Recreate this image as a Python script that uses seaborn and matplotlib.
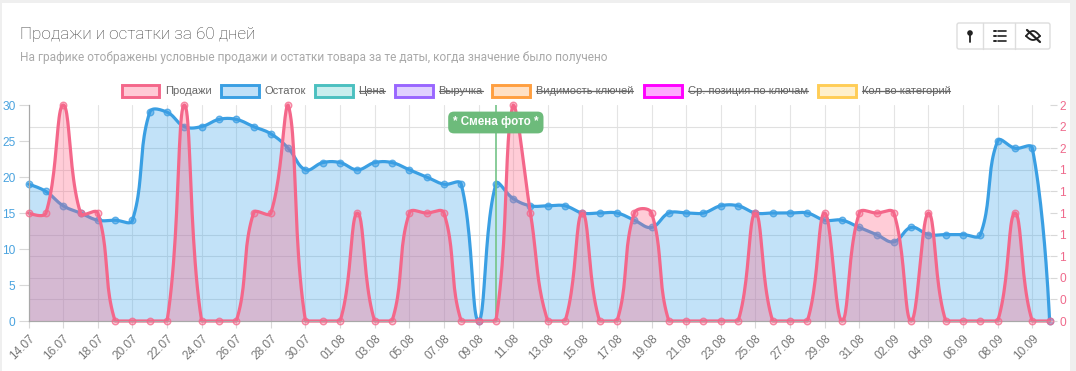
import matplotlib
matplotlib.use('Agg')
import matplotlib.pyplot as plt
from matplotlib.patches import Rectangle, FancyBboxPatch, Circle
import numpy as np
import seaborn as sns

# values
dates = ['14.07', '16.07', '18.07', '20.07', '22.07', '24.07', '26.07', '28.07', '30.07', '01.08',
         '03.08', '05.08', '07.08', '09.08', '11.08', '13.08', '15.08', '17.08', '19.08', '21.08',
         '23.08', '25.08', '27.08', '29.08', '31.08', '02.09', '04.09', '06.09', '08.09', '10.09']
stock = [19, 18, 16, 15, 14, 14, 14, 29, 29, 27, 27, 28, 28, 27, 26, 24, 21, 22, 22, 21,
         22, 22, 21, 20, 19, 19, 0, 19, 17, 16, 16, 16, 15, 15, 15, 14, 13, 15, 15, 15,
         16, 16, 15, 15, 15, 15, 14, 14, 13, 12, 11, 13, 12, 12, 12, 12, 25, 24, 24, 0]
sales = [1, 1, 2, 1, 1, 0, 0, 0, 0, 2, 0, 0, 0, 1, 1, 2, 0, 0, 0, 1,
         0, 0, 1, 1, 1, 0, 0, 0, 2, 1, 0, 0, 1, 0, 0, 1, 1, 0, 0, 0,
         0, 0, 1, 0, 0, 0, 1, 0, 1, 1, 1, 0, 1, 0, 0, 0, 0, 1, 0, 0]
legend_labels = ['Продажи', 'Остаток', 'Цена', 'Выручка', 'Видимость ключей',
                 'Ср. позиция по ключам', 'Кол-во категорий']
legend_hidden = [False, False, True, True, True, True, True]
note_index = 27
note_text = '* Смена фото *'

legend_edges = ['#f4678a', '#3a9fe3', '#4bc0c0', '#9966ff', '#ff9f40', '#ff00ff', '#ffcd56']
legend_fills = ['#ffc9d5', '#c0e0f8', '#c9eeee', '#e0d1ff', '#ffe0c4', '#ffaaff', '#fff0cc']
legend_x = [120.5, 220, 314, 394, 491, 643, 817]

W, H = 1076, 371
L, R, T, B = 28.6, 1049.6, 105, 321
PINK = '#f4678a'
BLUE = '#3a9fe3'


def smooth(values, ymax, tension=0.4):
    # same cubic curve as the web chart, control points worked out in pixels
    n = len(values)
    sx = (R - L) / (n - 1)
    sy = (B - T) / ymax
    xs, ys = [], []
    pts = np.column_stack([np.arange(n) * sx, np.array(values, dtype=float) * sy])
    before, after = pts.copy(), pts.copy()
    for i in range(1, n - 1):
        d1 = np.hypot(*(pts[i] - pts[i - 1]))
        d2 = np.hypot(*(pts[i + 1] - pts[i]))
        total = max(d1 + d2, 1e-9)
        before[i] = pts[i] - tension * d1 / total * (pts[i + 1] - pts[i - 1])
        after[i] = pts[i] + tension * d2 / total * (pts[i + 1] - pts[i - 1])
    before[:, 1] = np.clip(before[:, 1], 0, B - T)
    after[:, 1] = np.clip(after[:, 1], 0, B - T)
    t = np.linspace(0, 1, 24)[:, None]
    for i in range(n - 1):
        c = ((1 - t) ** 3 * pts[i] + 3 * (1 - t) ** 2 * t * after[i]
             + 3 * (1 - t) * t ** 2 * before[i + 1] + t ** 3 * pts[i + 1])
        xs.extend(c[:, 0] / sx)
        ys.extend(c[:, 1] / sy)
    return np.array(xs), np.array(ys)


sns.set_style('white')
plt.rcParams['font.family'] = ['Liberation Sans', 'DejaVu Sans']

fig = plt.figure(figsize=(W / 100, H / 100), dpi=100, facecolor='#efefef')

# page furniture is placed in pixels on a background axes
bg = fig.add_axes([0, 0, 1, 1], zorder=0)
bg.set_xlim(0, W)
bg.set_ylim(H, 0)
bg.axis('off')
bg.add_patch(Rectangle((2, 3), 1068, 368, fc='white', ec='none'))
bg.text(20, 34, 'Продажи и остатки за 60 дней', fontsize=12.3, color='#3f3f3f', va='center',
        family='Roboto', fontweight='light')
bg.text(20, 57, 'На графике отображены условные продажи и остатки товара за те даты, когда значение было получено',
        fontsize=8.58, color='#a9a9a9', va='center', family='Roboto')

# buttons
bg.add_patch(FancyBboxPatch((957, 23), 93, 26, boxstyle='round,pad=0,rounding_size=2',
                            fc='white', ec='#dddddd', lw=1))
for bx in [983, 1015]:
    bg.plot([bx, bx], [23, 49], color='#dddddd', lw=1)
bg.add_patch(Circle((970, 33), 2.8, fc='#222222', ec='none'))
bg.plot([970, 970], [35, 42], color='#222222', lw=1.3)
for ly in [31, 36, 41]:
    bg.plot([994, 995.5], [ly, ly], color='#222222', lw=1.4)
    bg.plot([997.5, 1006], [ly, ly], color='#222222', lw=1.2)
eye = np.linspace(1026, 1040, 20)
bg.plot(eye, 36 - 5 * np.sin((eye - 1026) / 14 * np.pi), color='#222222', lw=1.3)
bg.plot(eye, 36 + 4 * np.sin((eye - 1026) / 14 * np.pi), color='#222222', lw=1.3)
bg.plot([1027, 1040], [30, 42], color='#222222', lw=1.6)

# legend
renderer = fig.canvas.get_renderer()
for label, hidden, edge, fill, lx in zip(legend_labels, legend_hidden, legend_edges, legend_fills, legend_x):
    bg.add_patch(Rectangle((lx + 1, 85), 37.5, 12, fc=fill, ec=edge, lw=2.1))
    txt = bg.text(lx + 44.5, 90.5, label, fontsize=8.05, color='#666666', va='center')
    if hidden:
        ext = txt.get_window_extent(renderer)
        bg.plot([ext.x0, ext.x1], [90.5, 90.5], color='#666666', lw=0.9)

ax = fig.add_axes([L / W, 1 - B / H, (R - L) / W, (B - T) / H], zorder=1)
ax.patch.set_alpha(0)
ax2 = ax.twinx()
ax2.set_zorder(2)
ax2.patch.set_alpha(0)

days = np.arange(len(stock))
stock_x, stock_y = smooth(stock, 30)
sales_x, sales_y = smooth(sales, 2)

ax.fill_between(stock_x, 0, stock_y, color='#36a2eb', alpha=0.3, lw=0)
sns.lineplot(x=stock_x, y=stock_y, ax=ax, color=BLUE, lw=2.3, sort=False, estimator=None, clip_on=False)
sns.scatterplot(x=days, y=stock, ax=ax, s=22, color=(0.23, 0.62, 0.89, 0.55),
                edgecolor=(0.23, 0.62, 0.89, 0.75), linewidth=1.0, clip_on=False, legend=False, zorder=4)

ax2.fill_between(sales_x, 0, sales_y, color='#ff6384', alpha=0.32, lw=0)
sns.lineplot(x=sales_x, y=sales_y, ax=ax2, color=PINK, lw=2.3, sort=False, estimator=None, clip_on=False)
sns.scatterplot(x=days, y=sales, ax=ax2, s=22, color=(0.96, 0.40, 0.54, 0.35),
                edgecolor=(0.96, 0.40, 0.54, 0.75), linewidth=1.0, clip_on=False, legend=False, zorder=4)

ax.set_xlim(0, len(stock) - 1)
ax.set_ylim(0, 30)
ax2.set_ylim(0, 2)

ax.set_xticks(np.arange(len(dates)) * 2)
ax.set_xticklabels(dates, rotation=45, ha='right', rotation_mode='anchor', fontsize=8.6, color='#777777')
ax.set_yticks(np.arange(0, 31, 5))
ax.set_yticks(np.arange(0, 31, 3), minor=True)
ax.tick_params(axis='y', which='major', length=7.5, width=0.8, color='#d8d8d8', pad=2,
               labelsize=8.6, labelcolor='#4aa3df', left=True)
ax.tick_params(axis='y', which='minor', length=0)
ax.tick_params(axis='x', length=5, width=0.8, color='#d8d8d8', pad=3, bottom=True)
ax.grid(True, axis='x', which='major', color='#e4e4e4', lw=0.8)
ax.grid(True, axis='y', which='minor', color='#e0e0e0', lw=0.8)
ax.grid(False, axis='y', which='major')
ax.set_axisbelow(True)

ax2.set_yticks(np.arange(11) * 0.2)
ax2.set_yticklabels([f'{v:.0f}' for v in np.arange(11) * 0.2])
ax2.tick_params(axis='y', length=5, width=0.8, color='#d8d8d8', pad=2, labelsize=8.6,
                labelcolor='#ef6a8c', right=True)
ax2.grid(False)

for a in [ax, ax2]:
    for side in ['top', 'right']:
        a.spines[side].set_visible(False)
    a.spines['left'].set_color('#a8a8a8')
    a.spines['left'].set_linewidth(0.8)
    a.spines['bottom'].set_color('#a8a8a8')
    a.spines['bottom'].set_linewidth(0.8)
    a.set_xlabel('')
    a.set_ylabel('')

# photo change marker
ax.axvline(note_index, color='#74c487', lw=1.2, zorder=5)
ax2.annotate(note_text, xy=(note_index, 1), xycoords=('data', 'axes fraction'), xytext=(0, -17.5),
             textcoords='offset pixels', ha='center', va='center', fontsize=8.4, fontweight='bold',
             color='white', zorder=6,
             bbox=dict(boxstyle='round,pad=0.42,rounding_size=0.5', fc='#6dbb7b', ec='none'))

fig.savefig('out.png', dpi=100, facecolor=fig.get_facecolor())
